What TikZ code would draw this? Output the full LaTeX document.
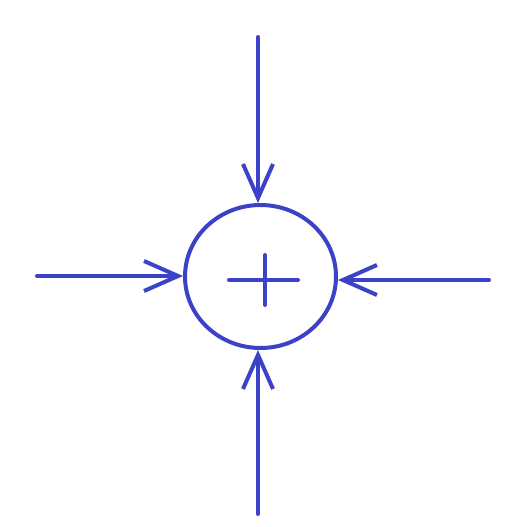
\documentclass[tikz,border=0pt]{standalone}
\usepackage{tikz}
\usetikzlibrary{arrows.meta,shapes.geometric,calc}

\definecolor{sumblue}{RGB}{60,66,200}

\begin{document}
\begin{tikzpicture}[x=1pt,y=-1pt,
	arr/.style={draw=sumblue,line width=4pt,line cap=round,-{Straight Barb[length=34pt,width=30pt]}}]
	
	\useasboundingbox (0,0) rectangle (504,527);
	
	\node[shape=ellipse,draw=sumblue,line width=4pt,minimum width=151pt,minimum height=143pt,inner sep=0pt] (sum) at (260.5, 276.5) {};
	
	\coordinate (top)    at (258, 37);
	\coordinate (left)   at (37, 276);
	\coordinate (right)  at (489, 280);
	\coordinate (bottom) at (258, 514);
	
	\draw[arr] (top) -- (top |- sum.north);
	\draw[arr] (left) -- (left -| sum.west);
	\draw[arr] (right) -- (right -| sum.east);
	\draw[arr] (bottom) -- (bottom |- sum.south);
	
	% plus sign
	\draw[sumblue,line width=4pt,line cap=round] ($(sum)+(-31.5,3.5)$) -- ($(sum)+(37.5,3.5)$);
	\draw[sumblue,line width=4pt,line cap=round] ($(sum)+(4.5,-21.5)$) -- ($(sum)+(4.5,28.5)$);
	
\end{tikzpicture}
\end{document}
